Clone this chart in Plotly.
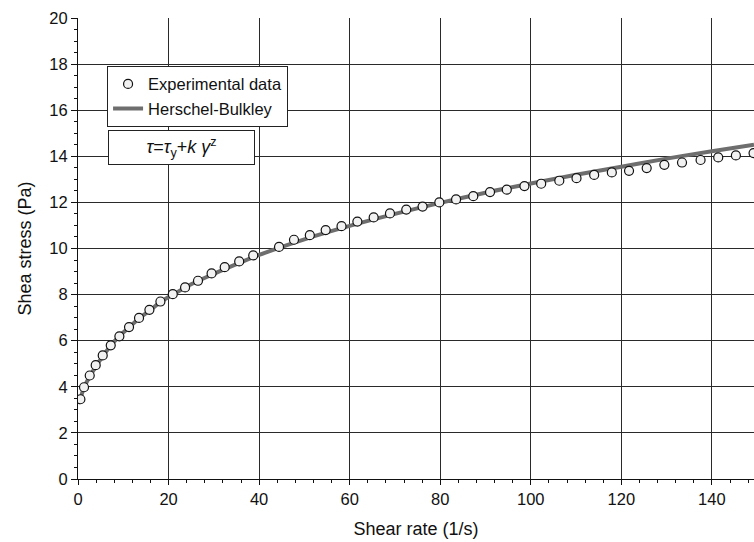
import plotly.graph_objects as go

shear_rate = [0.53, 1.33, 2.59, 3.91, 5.46, 7.23, 9.14, 11.27, 13.48, 15.77, 18.2, 20.93,
              23.65, 26.5, 29.5, 32.4, 35.6, 38.7, 44.4, 47.7, 51.2, 54.7, 58.2, 61.7,
              65.3, 68.9, 72.5, 76.1, 79.8, 83.5, 87.3, 91.0, 94.7, 98.6, 102.3, 106.3,
              110.1, 114.0, 117.9, 121.7, 125.6, 129.5, 133.4, 137.5, 141.4, 145.3, 149.2]
shear_stress = [3.46, 3.98, 4.49, 4.94, 5.36, 5.80, 6.19, 6.59, 6.99, 7.34, 7.70, 8.02,
                8.31, 8.60, 8.92, 9.19, 9.44, 9.70, 10.07, 10.38, 10.58, 10.80, 10.97, 11.17,
                11.35, 11.52, 11.69, 11.82, 12.00, 12.13, 12.27, 12.45, 12.55, 12.71, 12.81, 12.94,
                13.05, 13.19, 13.30, 13.37, 13.49, 13.63, 13.73, 13.84, 13.95, 14.04, 14.14]

# Herschel-Bulkley fitted curve
hb_rate = [0.5, 1.3, 2.6, 4, 5.5, 7.2, 9, 11.3, 13.5, 16, 18.2, 21, 25, 30, 35, 40, 50,
           60, 70, 80, 90, 100, 110, 120, 130, 140, 149.3]
hb_stress = [3.45, 3.95, 4.45, 4.9, 5.33, 5.78, 6.17, 6.58, 6.97, 7.33, 7.68, 8.0, 8.45,
             8.9, 9.32, 9.72, 10.4, 10.98, 11.5, 11.98, 12.42, 12.82, 13.2, 13.55, 13.9,
             14.22, 14.5]

x_ticks = [0, 20, 40, 60, 80, 100, 120, 140]
y_ticks = [0, 2, 4, 6, 8, 10, 12, 14, 16, 18, 20]

FONT = "Liberation Sans, Arial, Helvetica, sans-serif"
GRID = "#2a2a2a"

fig = go.Figure()
# line first so that markers are drawn on top of it
fig.add_trace(go.Scatter(
    x=hb_rate, y=hb_stress, mode="lines", name="Herschel-Bulkley",
    legendrank=2,
    line=dict(color="#6e6e6e", width=4, shape="spline"),
))
fig.add_trace(go.Scatter(
    x=shear_rate, y=shear_stress, mode="markers", name="Experimental data",
    legendrank=1,
    marker=dict(symbol="circle", size=9, color="#f2f2f2",
                line=dict(color="#111111", width=1.2)),
))

fig.update_layout(
    width=754, height=542,
    margin=dict(l=78, r=0, t=18, b=63),
    paper_bgcolor="white", plot_bgcolor="white",
    font=dict(family=FONT, size=16, color="#111111"),
    showlegend=True,
    legend=dict(
        x=0.043, y=0.8965, xanchor="left", yanchor="top",
        bgcolor="white", bordercolor="#222222", borderwidth=1,
        font=dict(size=16.5), traceorder="normal",
        itemwidth=30,
    ),
)
fig.update_xaxes(
    range=[0, 149.3], tickvals=x_ticks, ticks="outside", ticklen=5, tickwidth=1,
    tickcolor="#111111", showline=True, linecolor="#111111", linewidth=1,
    showgrid=True, gridcolor=GRID, gridwidth=1, zeroline=False,
    minor=dict(dtick=4, ticks="outside", ticklen=3, tickcolor="#111111", showgrid=False),
    title=dict(text="Shear rate (1/s)", font=dict(size=18), standoff=15),
    tickfont=dict(size=16.5),
)
fig.update_yaxes(
    range=[0, 20], tickvals=y_ticks, ticks="outside", ticklen=6, tickwidth=1,
    tickcolor="#111111", showline=True, linecolor="#111111", linewidth=1,
    showgrid=True, gridcolor=GRID, gridwidth=1, zeroline=False,
    minor=dict(dtick=0.5, ticks="outside", ticklen=3, tickcolor="#111111", showgrid=False),
    title=dict(text="Shea stress (Pa)", font=dict(size=18), standoff=13),
    tickfont=dict(size=16.5),
)

fig.add_annotation(
    xref="paper", yref="paper", x=0.045, y=0.757, xanchor="left", yanchor="top",
    text="<i>τ</i>=<i>τ</i><sub>y</sub>+<i>k γ</i><sup>z</sup>",
    showarrow=False, width=143, height=31, align="center", valign="middle",
    bgcolor="white", bordercolor="#222222", borderwidth=1,
    font=dict(family=FONT, size=18, color="#111111"),
)

fig.write_html("out.html")
